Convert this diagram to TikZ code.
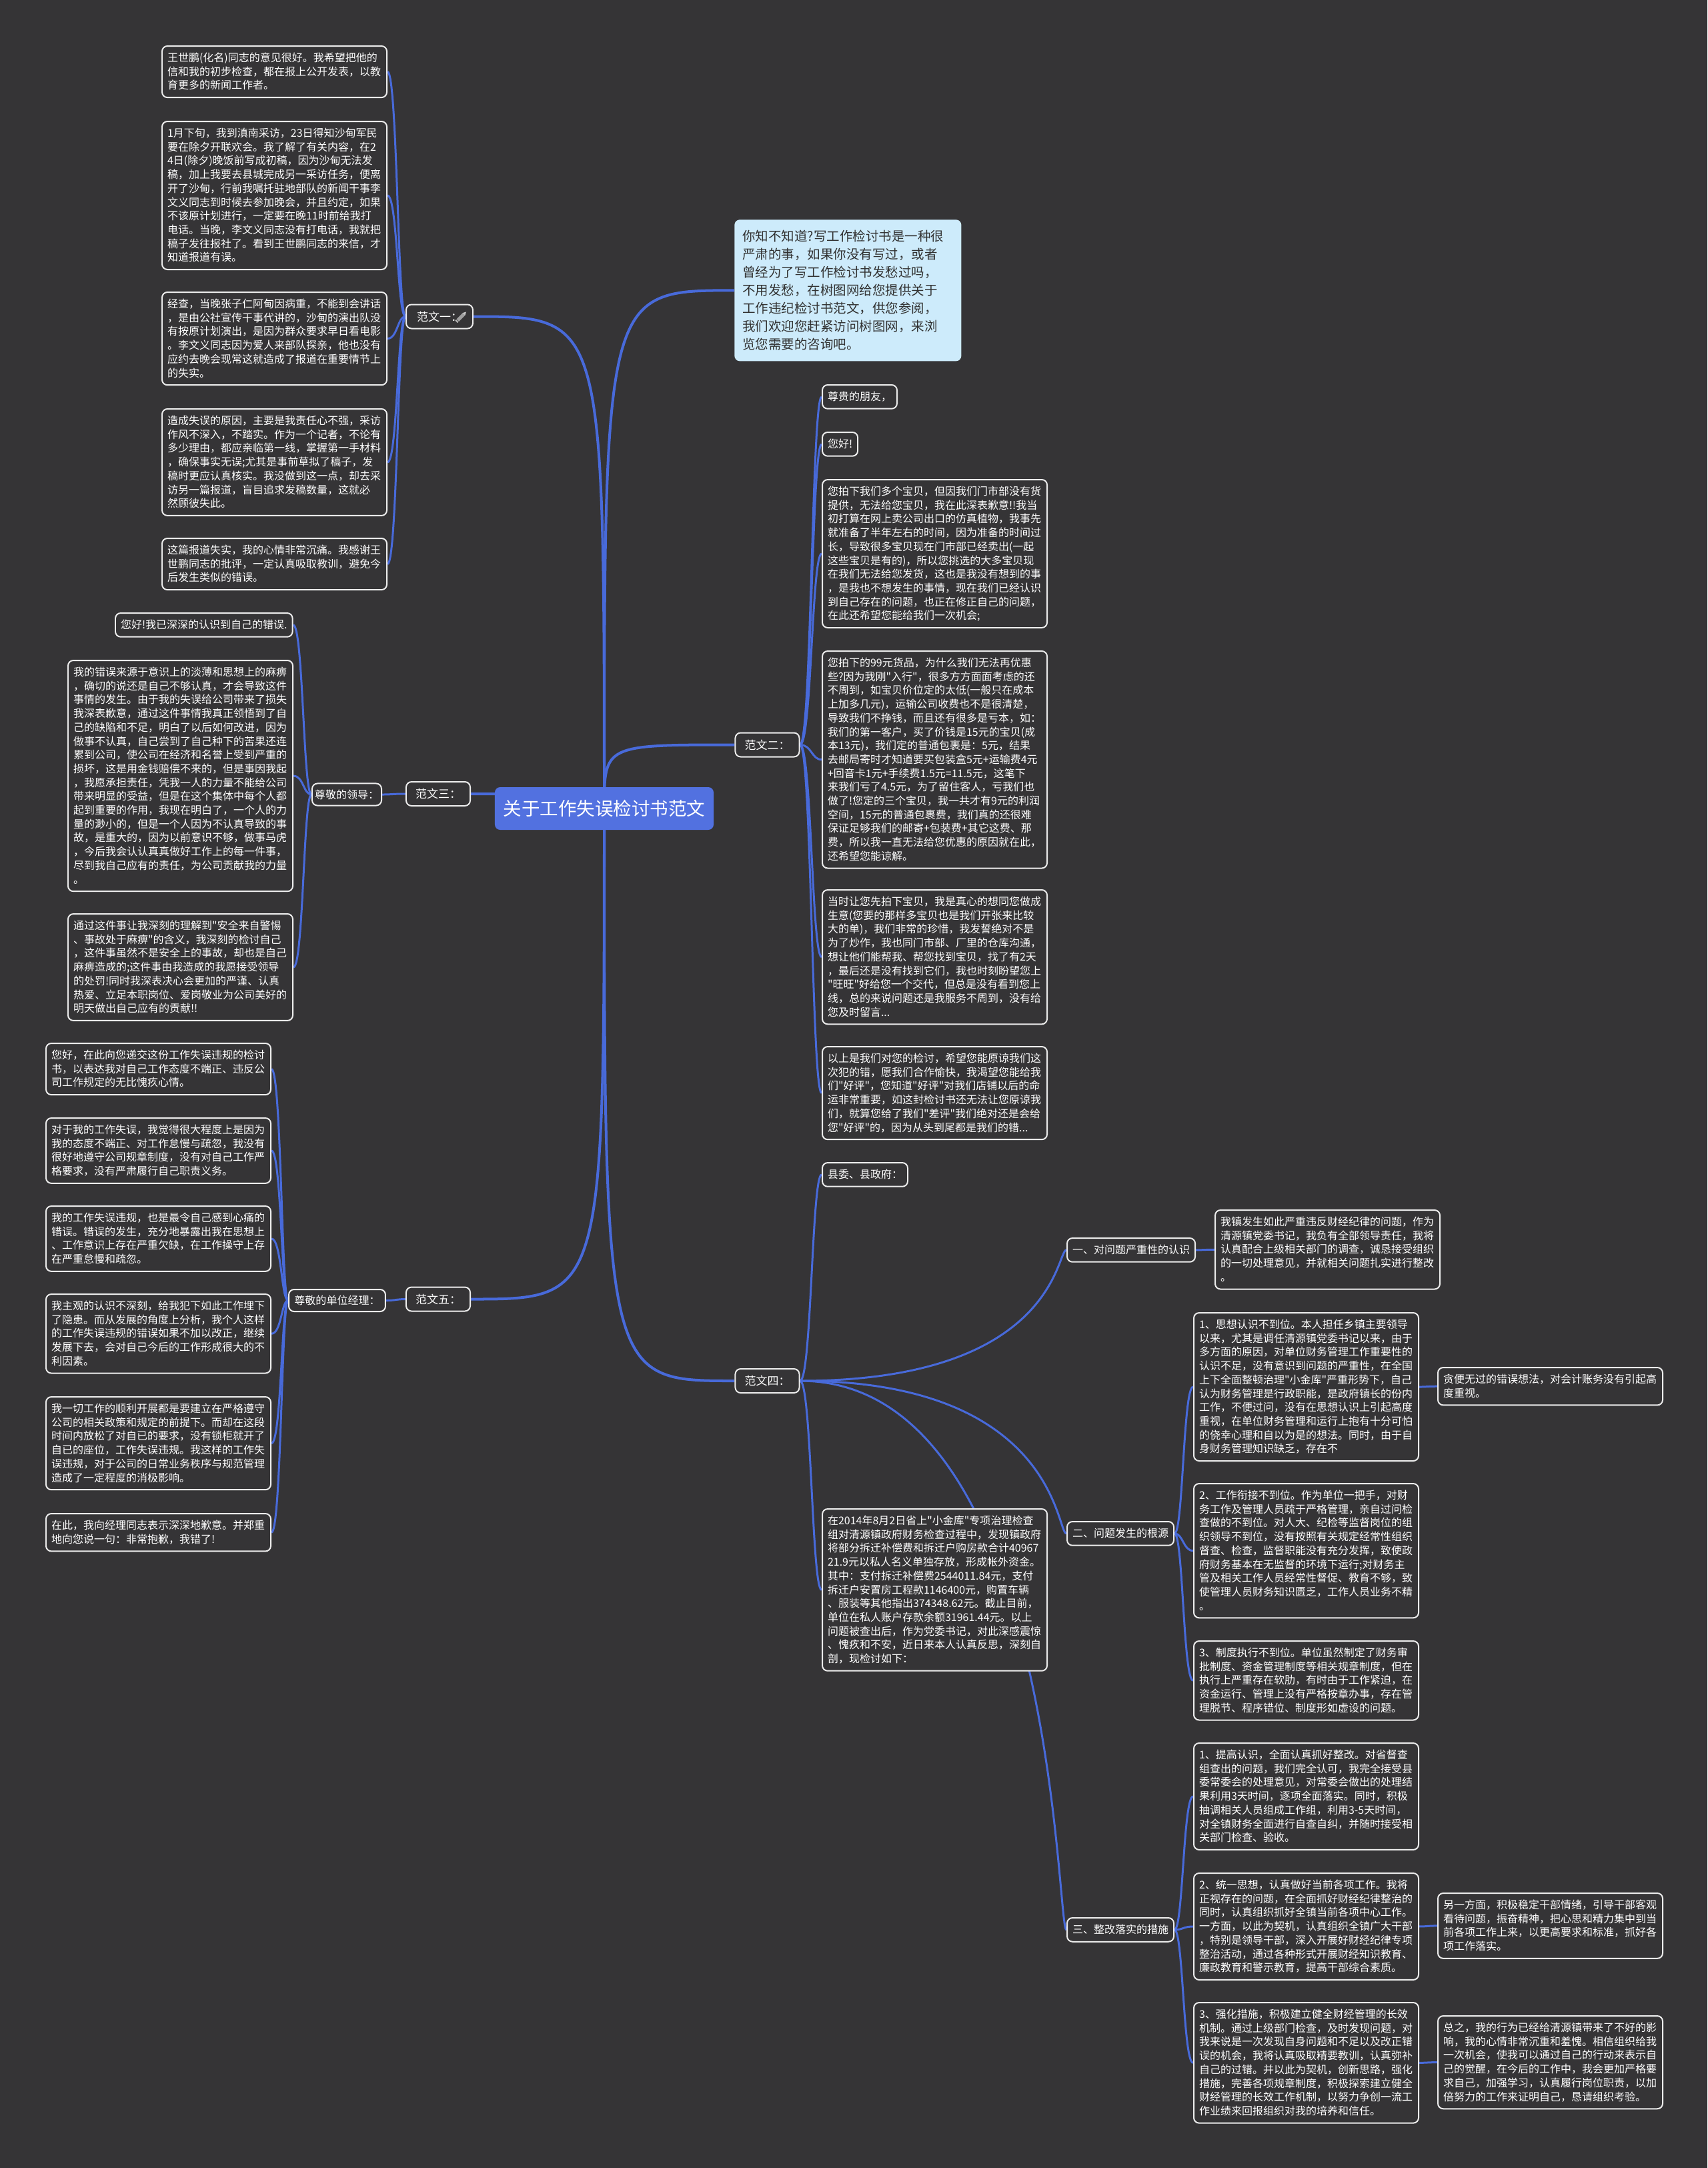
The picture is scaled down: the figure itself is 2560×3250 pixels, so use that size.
\documentclass[tikz,border=0pt]{standalone}
\usepackage{fontspec}
\setmainfont[Ligatures=TeXOff]{Noto Sans CJK SC}
\usetikzlibrary{calc}
\definecolor{bgc}{RGB}{53,52,54}
\definecolor{linec}{RGB}{72,106,218}
\definecolor{rootc}{RGB}{82,113,224}
\definecolor{introc}{RGB}{205,235,251}
\definecolor{bordc}{RGB}{236,236,236}
\definecolor{introtext}{RGB}{50,50,50}
\pgfdeclarelayer{back}
\pgfdeclarelayer{lines}
\pgfsetlayers{back,lines,main}
\tikzset{
  box/.style={draw=bordc, line width=1.42pt, fill=bgc, rounded corners=5.7pt, text=white,
    inner sep=5.69pt, align=left, font=\fontsize{11.38pt}{14.72pt}\selectfont, anchor=north west,
    execute at begin node={\rule{0pt}{11.03pt}}, execute at end node={\rule[-2.99pt]{0pt}{2.99pt}}},
  leaf/.style={box, text width=228.3pt},
  rootbox/.style={fill=rootc, rounded corners=5.7pt, text=white, font=\fontsize{19.56pt}{24pt}\selectfont,
    minimum width=233.3pt, minimum height=45.5pt, inner sep=0pt},
  introbox/.style={fill=introc, rounded corners=5.7pt, text=introtext, font=\fontsize{13.87pt}{19.21pt}\selectfont,
    text width=224.8pt, inner sep=8.54pt, align=left, anchor=north west,
    execute at begin node={\rule{0pt}{14.23pt}}, execute at end node={\rule[-4.27pt]{0pt}{4.27pt}}},
  lvlone/.style={draw=bordc, line width=1.42pt, fill=bgc, rounded corners=5.7pt, text=white,
    font=\fontsize{12.09pt}{14pt}\selectfont, minimum width=68.3pt, minimum height=25.6pt, inner sep=2pt},
  lvltwo/.style={draw=bordc, line width=1.42pt, fill=bgc, rounded corners=5.7pt, text=white,
    font=\fontsize{11.38pt}{14pt}\selectfont, minimum height=23.5pt, inner sep=2pt},
  conn/.style={draw=linec, line width=2.13pt},
  rconn/.style={draw=linec, line width=2.85pt}
}
\newcommand\econ[2]{\draw[conn] (#1.east) .. controls ($(#2.west |- #1.east)+(-15,0)$) and ($(#2.west)+(-15,0)$) .. (#2.west);}
\newcommand\wcon[2]{\draw[conn] (#1.west) .. controls ($(#2.east |- #1.west)+(15,0)$) and ($(#2.east)+(15,0)$) .. (#2.east);}
\begin{document}
\begin{tikzpicture}[x=0.025cm,y=-0.025cm]
\useasboundingbox (0,0) rectangle (2560,3250);
\begin{pgfonlayer}{back}
\fill[bgc] (0,0) rectangle (2560,3250);
\end{pgfonlayer}

% root and intro
\node[rootbox] (c) at (906,1212) {关于工作失误检讨书范文};
\node[introbox] (intro) at (1101,329) {你知不知道?写工作检讨书是一种很\\严肃的事，如果你没有写过，或者\\曾经为了写工作检讨书发愁过吗，\\不用发愁，在树图网给您提供关于\\工作违纪检讨书范文，供您参阅，\\我们欢迎您赶紧访问树图网，来浏\\览您需要的咨询吧。};

% level one
\node[lvlone, minimum width=71.1pt] (fw1) at (659,474.5) {范文一：\hspace{15pt}};
\node[lvlone] (fw2) at (1150.5,1116.5) {范文二：};
\node[lvlone] (fw3) at (657,1190) {范文三：};
\node[lvlone] (fw4) at (1150.5,2070) {范文四：};
\node[lvlone] (fw5) at (657,1947.5) {范文五：};
\begin{scope}[shift={($(fw1.east)+(-18,0)$)}, rotate=45]
  \fill[gray!75] (-8,-2.6) rectangle (5,2.6);
  \fill[gray!45] (5,-2.6) -- (10,0) -- (5,2.6) -- cycle;
  \fill[gray!55] (-11,-2.6) rectangle (-9,2.6);
\end{scope}

% fanwen 1
\node[leaf] (a1) at (242,68) {王世鹏(化名)同志的意见很好。我希望把他的\\信和我的初步检查，都在报上公开发表，以教\\育更多的新闻工作者。};
\node[leaf] (a2) at (242,181) {1月下旬，我到滇南采访，23日得知沙甸军民\\要在除夕开联欢会。我了解了有关内容，在2\\4日(除夕)晚饭前写成初稿，因为沙甸无法发\\稿，加上我要去县城完成另一采访任务，便离\\开了沙甸，行前我嘱托驻地部队的新闻干事李\\文义同志到时候去参加晚会，并且约定，如果\\不该原计划进行，一定要在晚11时前给我打\\电话。当晚，李文义同志没有打电话，我就把\\稿子发往报社了。看到王世鹏同志的来信，才\\知道报道有误。};
\node[leaf] (a3) at (242,437) {经查，当晚张子仁阿甸因病重，不能到会讲话\\，是由公社宣传干事代讲的，沙甸的演出队没\\有按原计划演出，是因为群众要求早日看电影\\。李文义同志因为爱人来部队探亲，他也没有\\应约去晚会现常这就造成了报道在重要情节上\\的失实。};
\node[leaf] (a4) at (242,612) {造成失误的原因，主要是我责任心不强，采访\\作风不深入，不踏实。作为一个记者，不论有\\多少理由，都应亲临第一线，掌握第一手材料\\，确保事实无误;尤其是事前草拟了稿子，发\\稿时更应认真核实。我没做到这一点，却去采\\访另一篇报道，盲目追求发稿数量，这就必\\然顾彼失此。};
\node[leaf] (a5) at (242,806) {这篇报道失实，我的心情非常沉痛。我感谢王\\世鹏同志的批评，一定认真吸取教训，避免今\\后发生类似的错误。};

% fanwen 2
\node[box] (b1) at (1232,576) {尊贵的朋友，};
\node[box] (b2) at (1232,647) {您好!};
\node[leaf] (b3) at (1232,718) {您拍下我们多个宝贝，但因我们门市部没有货\\提供，无法给您宝贝，我在此深表歉意!!我当\\初打算在网上卖公司出口的仿真植物，我事先\\就准备了半年左右的时间，因为准备的时间过\\长，导致很多宝贝现在门市部已经卖出(一起\\这些宝贝是有的)，所以您挑选的大多宝贝现\\在我们无法给您发货，这也是我没有想到的事\\，是我也不想发生的事情，现在我们已经认识\\到自己存在的问题，也正在修正自己的问题，\\在此还希望您能给我们一次机会;};
\node[leaf] (b4) at (1232,975) {您拍下的99元货品，为什么我们无法再优惠\\些?因为我刚"入行"，很多方方面面考虑的还\\不周到，如宝贝价位定的太低(一般只在成本\\上加多几元)，运输公司收费也不是很清楚，\\导致我们不挣钱，而且还有很多是亏本，如：\\我们的第一客户，买了价钱是15元的宝贝(成\\本13元)，我们定的普通包裹是：5元，结果\\去邮局寄时才知道要买包装盒5元+运输费4元\\+回音卡1元+手续费1.5元=11.5元，这笔下\\来我们亏了4.5元，为了留住客人，亏我们也\\做了!您定的三个宝贝，我一共才有9元的利润\\空间，15元的普通包裹费，我们真的还很难\\保证足够我们的邮寄+包装费+其它这费、那\\费，所以我一直无法给您优惠的原因就在此，\\还希望您能谅解。};
\node[leaf] (b5) at (1232,1333) {当时让您先拍下宝贝，我是真心的想同您做成\\生意(您要的那样多宝贝也是我们开张来比较\\大的单)，我们非常的珍惜，我发誓绝对不是\\为了炒作，我也同门市部、厂里的仓库沟通，\\想让他们能帮我、帮您找到宝贝，找了有2天\\，最后还是没有找到它们，我也时刻盼望您上\\"旺旺"好给您一个交代，但总是没有看到您上\\线，总的来说问题还是我服务不周到，没有给\\您及时留言...};
\node[leaf] (b6) at (1232,1568) {以上是我们对您的检讨，希望您能原谅我们这\\次犯的错，愿我们合作愉快，我渴望您能给我\\们"好评"，您知道"好评"对我们店铺以后的命\\运非常重要，如这封检讨书还无法让您原谅我\\们，就算您给了我们"差评"我们绝对还是会给\\您"好评"的，因为从头到尾都是我们的错...};

% fanwen 3
\node[lvltwo, minimum width=74pt] (ld3) at (520,1191) {尊敬的领导：};
\node[box] (c1) at (172,918) {您好!我已深深的认识到自己的错误.};
\node[leaf] (c2) at (101,989) {我的错误来源于意识上的淡薄和思想上的麻痹\\，确切的说还是自己不够认真，才会导致这件\\事情的发生。由于我的失误给公司带来了损失\\我深表歉意，通过这件事情我真正领悟到了自\\己的缺陷和不足，明白了以后如何改进，因为\\做事不认真，自己尝到了自己种下的苦果还连\\累到公司，使公司在经济和名誉上受到严重的\\损坏，这是用金钱赔偿不来的，但是事因我起\\，我愿承担责任，凭我一人的力量不能给公司\\带来明显的受益，但是在这个集体中每个人都\\起到重要的作用，我现在明白了，一个人的力\\量的渺小的，但是一个人因为不认真导致的事\\故，是重大的，因为以前意识不够，做事马虎\\，今后我会认认真真做好工作上的每一件事，\\尽到我自己应有的责任，为公司贡献我的力量\\。};
\node[leaf] (c3) at (101,1369) {通过这件事让我深刻的理解到"安全来自警惕\\、事故处于麻痹"的含义，我深刻的检讨自己\\，这件事虽然不是安全上的事故，却也是自己\\麻痹造成的;这件事由我造成的我愿接受领导\\的处罚!同时我深表决心会更加的严谨、认真\\热爱、立足本职岗位、爱岗敬业为公司美好的\\明天做出自己应有的贡献!!};

% fanwen 5
\node[lvltwo, minimum width=103.1pt] (ld5) at (505.5,1949.5) {尊敬的单位经理：};
\node[leaf] (e1) at (68,1563) {您好，在此向您递交这份工作失误违规的检讨\\书，以表达我对自己工作态度不端正、违反公\\司工作规定的无比愧疚心情。};
\node[leaf] (e2) at (68,1675) {对于我的工作失误，我觉得很大程度上是因为\\我的态度不端正、对工作怠慢与疏忽，我没有\\很好地遵守公司规章制度，没有对自己工作严\\格要求，没有严肃履行自己职责义务。};
\node[leaf] (e3) at (68,1807) {我的工作失误违规，也是最令自己感到心痛的\\错误。错误的发生，充分地暴露出我在思想上\\、工作意识上存在严重欠缺，在工作操守上存\\在严重怠慢和疏忽。};
\node[leaf] (e4) at (68,1939) {我主观的认识不深刻，给我犯下如此工作埋下\\了隐患。而从发展的角度上分析，我个人这样\\的工作失误违规的错误如果不加以改正，继续\\发展下去，会对自己今后的工作形成很大的不\\利因素。};
\node[leaf] (e5) at (68,2093) {我一切工作的顺利开展都是要建立在严格遵守\\公司的相关政策和规定的前提下。而却在这段\\时间内放松了对自已的要求，没有锁柜就开了\\自已的座位，工作失误违规。我这样的工作失\\误违规，对于公司的日常业务秩序与规范管理\\造成了一定程度的消极影响。};
\node[leaf] (e6) at (68,2268) {在此，我向经理同志表示深深地歉意。并郑重\\地向您说一句：非常抱歉，我错了!};

% fanwen 4
\node[box] (d1) at (1232,1742) {县委、县政府：};
\node[leaf] (d2) at (1232,2261) {在2014年8月2日省上"小金库"专项治理检查\\组对清源镇政府财务检查过程中，发现镇政府\\将部分拆迁补偿费和拆迁户购房款合计40967\\21.9元以私人名义单独存放，形成帐外资金。\\其中：支付拆迁补偿费2544011.84元，支付\\拆迁户安置房工程款1146400元，购置车辆\\、服装等其他指出374348.62元。截止目前，\\单位在私人账户存款余额31961.44元。以上\\问题被查出后，作为党委书记，对此深感震惊\\、愧疚和不安，近日来本人认真反思，深刻自\\剖，现检讨如下：};
\node[box] (s1) at (1599,1855) {一、对问题严重性的认识};
\node[box] (s2) at (1599,2280) {二、问题发生的根源};
\node[box] (s3) at (1599,2874) {三、整改落实的措施};
\node[leaf] (s1a) at (1821,1813) {我镇发生如此严重违反财经纪律的问题，作为\\清源镇党委书记，我负有全部领导责任，我将\\认真配合上级相关部门的调查，诚恳接受组织\\的一切处理意见，并就相关问题扎实进行整改\\。};
\node[leaf] (s2a) at (1789,1967) {1、思想认识不到位。本人担任乡镇主要领导\\以来，尤其是调任清源镇党委书记以来，由于\\多方面的原因，对单位财务管理工作重要性的\\认识不足，没有意识到问题的严重性，在全国\\上下全面整顿治理"小金库"严重形势下，自己\\认为财务管理是行政职能，是政府镇长的份内\\工作，不便过问，没有在思想认识上引起高度\\重视，在单位财务管理和运行上抱有十分可怕\\的侥幸心理和自以为是的想法。同时，由于自\\身财务管理知识缺乏，存在不};
\node[leaf] (s2ax) at (2155,2049) {贪便无过的错误想法，对会计账务没有引起高\\度重视。};
\node[leaf] (s2b) at (1789,2223) {2、工作衔接不到位。作为单位一把手，对财\\务工作及管理人员疏于严格管理，亲自过问检\\查做的不到位。对人大、纪检等监督岗位的组\\织领导不到位，没有按照有关规定经常性组织\\督查、检查，监督职能没有充分发挥，致使政\\府财务基本在无监督的环境下运行;对财务主\\管及相关工作人员经常性督促、教育不够，致\\使管理人员财务知识匮乏，工作人员业务不精\\。};
\node[leaf] (s2c) at (1789,2459) {3、制度执行不到位。单位虽然制定了财务审\\批制度、资金管理制度等相关规章制度，但在\\执行上严重存在软肋，有时由于工作紧迫，在\\资金运行、管理上没有严格按章办事，存在管\\理脱节、程序错位、制度形如虚设的问题。};
\node[leaf] (s3a) at (1789,2612) {1、提高认识，全面认真抓好整改。对省督查\\组查出的问题，我们完全认可，我完全接受县\\委常委会的处理意见，对常委会做出的处理结\\果利用3天时间，逐项全面落实。同时，积极\\抽调相关人员组成工作组，利用3-5天时间，\\对全镇财务全面进行自查自纠，并随时接受相\\关部门检查、验收。};
\node[leaf] (s3b) at (1789,2807) {2、统一思想，认真做好当前各项工作。我将\\正视存在的问题，在全面抓好财经纪律整治的\\同时，认真组织抓好全镇当前各项中心工作。\\一方面，以此为契机，认真组织全镇广大干部\\，特别是领导干部，深入开展好财经纪律专项\\整治活动，通过各种形式开展财经知识教育、\\廉政教育和警示教育，提高干部综合素质。};
\node[leaf] (s3bx) at (2155,2837) {另一方面，积极稳定干部情绪，引导干部客观\\看待问题，振奋精神，把心思和精力集中到当\\前各项工作上来，以更高要求和标准，抓好各\\项工作落实。};
\node[leaf] (s3c) at (1789,3001) {3、强化措施，积极建立健全财经管理的长效\\机制。通过上级部门检查，及时发现问题，对\\我来说是一次发现自身问题和不足以及改正错\\误的机会，我将认真吸取精要教训，认真弥补\\自己的过错。并以此为契机，创新思路，强化\\措施，完善各项规章制度，积极探索建立健全\\财经管理的长效工作机制，以努力争创一流工\\作业绩来回报组织对我的培养和信任。};
\node[leaf] (s3cx) at (2155,3021) {总之，我的行为已经给清源镇带来了不好的影\\响，我的心情非常沉重和羞愧。相信组织给我\\一次机会，使我可以通过自己的行动来表示自\\己的觉醒，在今后的工作中，我会更加严格要\\求自己，加强学习，认真履行岗位职责，以加\\倍努力的工作来证明自己，恳请组织考验。};

% connectors
\begin{pgfonlayer}{lines}
\draw[rconn] (c.center) .. controls (c.center |- intro.west) .. (intro.west);
\draw[rconn] (c.center) .. controls (c.center |- fw1.east) .. (fw1.east);
\draw[rconn] (c.center) .. controls (c.center |- fw2.west) .. (fw2.west);
\draw[rconn] (c.center) .. controls (c.center |- fw3.east) .. (fw3.east);
\draw[rconn] (c.center) .. controls (c.center |- fw4.west) .. (fw4.west);
\draw[rconn] (c.center) .. controls (c.center |- fw5.east) .. (fw5.east);
\wcon{fw1}{a1}\wcon{fw1}{a2}\wcon{fw1}{a3}\wcon{fw1}{a4}\wcon{fw1}{a5}
\econ{fw2}{b1}\econ{fw2}{b2}\econ{fw2}{b3}\econ{fw2}{b4}\econ{fw2}{b5}\econ{fw2}{b6}
\wcon{fw3}{ld3}
\wcon{ld3}{c1}\wcon{ld3}{c2}\wcon{ld3}{c3}
\wcon{fw5}{ld5}
\wcon{ld5}{e1}\wcon{ld5}{e2}\wcon{ld5}{e3}\wcon{ld5}{e4}\wcon{ld5}{e5}\wcon{ld5}{e6}
\econ{fw4}{d1}\econ{fw4}{d2}\econ{fw4}{s1}\econ{fw4}{s2}\econ{fw4}{s3}
\econ{s1}{s1a}
\econ{s2}{s2a}\econ{s2}{s2b}\econ{s2}{s2c}
\econ{s2a}{s2ax}
\econ{s3}{s3a}\econ{s3}{s3b}\econ{s3}{s3c}
\econ{s3b}{s3bx}\econ{s3c}{s3cx}
\end{pgfonlayer}
\end{tikzpicture}
\end{document}
